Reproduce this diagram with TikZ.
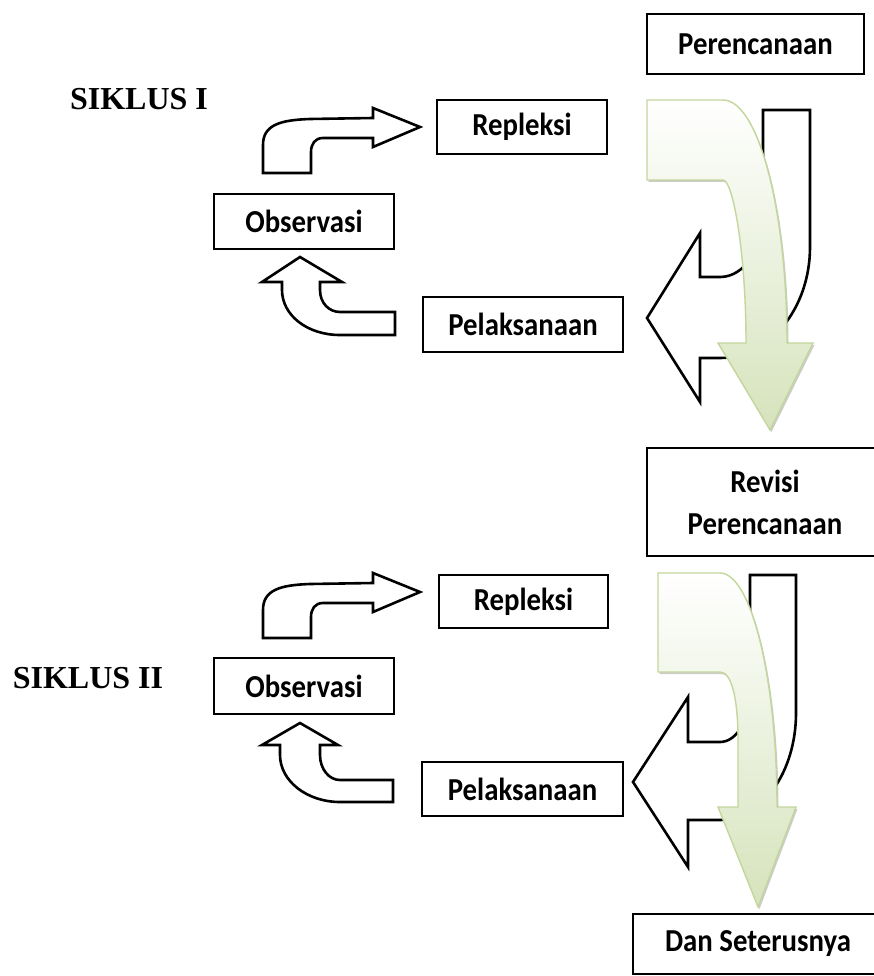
\documentclass[tikz,border=0pt]{standalone}
\usepackage{fontspec}
\setmainfont{Carlito}[FakeStretch=0.9]
\newfontfamily\siklusfont{Liberation Serif}
\usetikzlibrary{shadows}
\definecolor{cLeaf}{RGB}{214,227,188}
\definecolor{cLeafLine}{RGB}{195,214,155}

\begin{document}
\begin{tikzpicture}[x=1pt, y=-1pt,
    bx/.style={draw=black, line width=1.6pt, fill=white, inner sep=0pt, align=center,
               font=\fontsize{32}{42}\selectfont\bfseries},
    blk/.style={draw=black, line width=2.6pt, fill=white},
    grn/.style={draw=cLeafLine, line width=1.4pt, top color=white, bottom color=cLeaf,
               drop shadow={shadow xshift=1.5pt, shadow yshift=-2pt, fill=black!40}},
    lbl/.style={anchor=base, font=\siklusfont\fontsize{32}{38}\selectfont\bfseries}]
    \useasboundingbox (0,0) rectangle (874,976);
    \clip (0,0) rectangle (874,976);

    % siklus I
    \node[lbl] (s1) at (139,110) {SIKLUS I};
    \node[bx, minimum width=217pt, minimum height=60pt]  (per1) at (755.5,44)  {Perencanaan};
    \node[bx, minimum width=170pt, minimum height=54pt]  (rep1) at (522,127)   {Repleksi};
    \node[bx, minimum width=180pt, minimum height=55pt]  (obs1) at (304,221.5) {Observasi};
    \node[bx, minimum width=200pt, minimum height=55pt]  (pel1) at (523,324.5) {Pelaksanaan};

    \draw[blk] (763,110) -- (810,110) -- (810,247) .. controls (810,308) and (770,358) .. (720,358)
        -- (700,358) -- (700,402) -- (647,318) -- (700,233) -- (700,277) -- (720,277)
        .. controls (744,277) and (763,249) .. (763,215) -- cycle;
    \draw[grn] (647,100) -- (723,100) .. controls (758,100) and (787,209) .. (787,343)
        -- (813,343) -- (770,430) -- (718,343) -- (746,343)
        .. controls (746,253) and (733,180) .. (723,180) -- (647,180) -- cycle;
    \draw[blk] (263,173) -- (263,145) .. controls (263,125) and (280,120) .. (310,119) -- (373,118)
        -- (373,108) -- (420,127) -- (373,147) -- (373,138) -- (323,138)
        .. controls (315,138) and (311,144) .. (311,152) -- (311,173) -- cycle;
    \draw[blk] (300,257) -- (342,282) -- (320,282) -- (320,290)
        .. controls (320,303) and (329,312) .. (340,312) -- (395,312) -- (395,335) -- (340,335)
        .. controls (307,335) and (282,315) .. (282,290) -- (282,282) -- (262,282) -- cycle;

    \node[bx, minimum width=236pt, minimum height=108pt] (rev) at (765,502) {Revisi\\Perencanaan};

    % siklus II
    \node[lbl] (s2) at (88,688) {SIKLUS II};
    \node[bx, minimum width=169pt, minimum height=53pt]  (rep2) at (523.5,601.5) {Repleksi};
    \node[bx, minimum width=180pt, minimum height=56pt]  (obs2) at (304,686)     {Observasi};
    \node[bx, minimum width=201pt, minimum height=54pt]  (pel2) at (522.5,789)   {Pelaksanaan};

    \draw[blk] (750,575) -- (796,575) -- (796,713) .. controls (796,772) and (762,820) .. (720,820)
        -- (688,820) -- (688,867) -- (633,782) -- (688,697) -- (688,742) -- (720,742)
        .. controls (737,742) and (750,719) .. (750,690) -- cycle;
    \draw[grn] (658,573) -- (720,573) .. controls (751,573) and (777,678) .. (777,807)
        -- (796,807) -- (758,907) -- (718,807) -- (738,807) -- (738,740)
        .. controls (738,700) and (732,672) .. (720,672) -- (658,672) -- cycle;
    \draw[blk] (263,638) -- (263,610) .. controls (263,590) and (280,585) .. (310,584) -- (373,583)
        -- (373,573) -- (420,592) -- (373,612) -- (373,603) -- (323,603)
        .. controls (315,603) and (311,609) .. (311,617) -- (311,638) -- cycle;
    \draw[blk] (300,723) -- (338,745) -- (320,745) -- (320,755)
        .. controls (320,769) and (329,780) .. (340,780) -- (393,780) -- (393,802) -- (340,802)
        .. controls (307,802) and (280,781) .. (280,755) -- (280,745) -- (262,745) -- cycle;

    \node[bx, minimum width=250pt, minimum height=60pt]  (dan) at (758,944) {Dan Seterusnya};
\end{tikzpicture}
\end{document}
